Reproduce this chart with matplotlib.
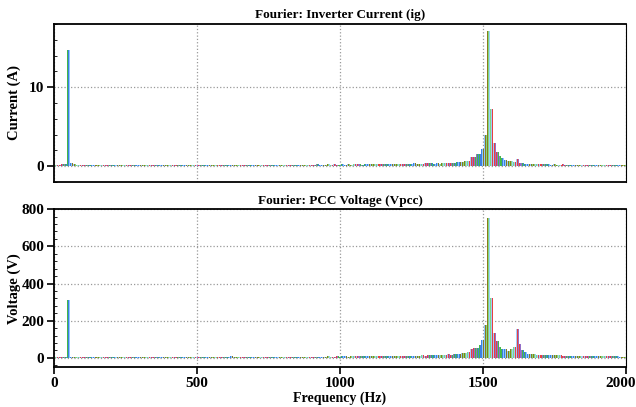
import numpy as np
import matplotlib
matplotlib.use("Agg")
import matplotlib.pyplot as plt
import matplotlib.transforms as mtrans

plt.rcParams["font.family"] = ["Liberation Serif", "DejaVu Serif"]
plt.rcParams["font.weight"] = "bold"

# frequency bins (Hz), 10 Hz resolution
freq = np.arange(0, 2001, 10)

# inverter current spectrum (A), one value per bin
current = [
    0.1, 0.15, 0.2, 0.25, 0.3, 14.7, 0.35, 0.25, 0.2, 0.15,
    0.12, 0.1, 0.12, 0.1, 0.12, 0.1, 0.12, 0.1, 0.1, 0.12,
    0.1, 0.12, 0.1, 0.15, 0.12, 0.1, 0.12, 0.1, 0.12, 0.1,
    0.12, 0.1, 0.1, 0.12, 0.1, 0.12, 0.1, 0.12, 0.1, 0.1,
    0.1, 0.12, 0.1, 0.1, 0.12, 0.1, 0.1, 0.12, 0.1, 0.12,
    0.1, 0.1, 0.12, 0.1, 0.12, 0.1, 0.12, 0.15, 0.12, 0.1,
    0.12, 0.15, 0.12, 0.1, 0.15, 0.12, 0.15, 0.12, 0.15, 0.12,
    0.15, 0.12, 0.15, 0.18, 0.15, 0.12, 0.15, 0.18, 0.15, 0.15,
    0.18, 0.15, 0.18, 0.15, 0.2, 0.18, 0.15, 0.2, 0.18, 0.2,
    0.18, 0.2, 0.25, 0.2, 0.18, 0.2, 0.22, 0.2, 0.25, 0.2,
    0.2, 0.22, 0.2, 0.25, 0.2, 0.22, 0.25, 0.22, 0.2, 0.25,
    0.22, 0.25, 0.22, 0.25, 0.28, 0.25, 0.22, 0.25, 0.3, 0.25,
    0.25, 0.28, 0.3, 0.25, 0.28, 0.3, 0.35, 0.3, 0.28, 0.3,
    0.35, 0.45, 0.35, 0.3, 0.35, 0.3, 0.35, 0.35, 0.4, 0.35,
    0.45, 0.5, 0.55, 0.55, 0.6, 0.7, 1.2, 1.2, 1.5, 1.6,
    2.15, 3.9, 17.1, 7.2, 2.9, 1.8, 1.25, 1.05, 0.8, 0.7,
    0.6, 0.55, 0.9, 0.45, 0.35, 0.3, 0.3, 0.28, 0.25, 0.25,
    0.25, 0.22, 0.25, 0.22, 0.2, 0.22, 0.2, 0.2, 0.22, 0.2,
    0.2, 0.18, 0.2, 0.18, 0.2, 0.18, 0.18, 0.2, 0.18, 0.15,
    0.18, 0.15, 0.18, 0.15, 0.15, 0.18, 0.15, 0.15, 0.18, 0.15,
    0.15,
]

# PCC voltage spectrum (V), one value per bin
voltage = [
    1, 2, 2, 3, 3, 310, 3, 2, 2, 2,
    2, 3, 2, 2, 3, 2, 2, 3, 2, 2,
    2, 2, 3, 2, 2, 3, 2, 2, 3, 2,
    3, 2, 2, 3, 2, 3, 2, 2, 3, 3,
    3, 3, 2, 3, 3, 4, 3, 3, 4, 3,
    3, 4, 3, 3, 4, 3, 4, 3, 4, 4,
    4, 4, 8, 4, 5, 4, 5, 4, 5, 5,
    5, 4, 5, 6, 5, 5, 4, 5, 6, 5,
    5, 6, 5, 6, 7, 6, 5, 6, 7, 6,
    6, 7, 6, 7, 6, 7, 8, 7, 7, 8,
    7, 8, 8, 7, 8, 9, 8, 8, 9, 8,
    9, 8, 9, 10, 9, 10, 9, 10, 11, 10,
    10, 11, 10, 11, 12, 11, 12, 11, 12, 13,
    12, 13, 14, 13, 15, 14, 16, 15, 18, 17,
    20, 21, 23, 24, 26, 29, 50, 54, 55, 70,
    98, 179, 751, 322, 134, 89, 57, 50, 48, 36,
    50, 57, 155, 72, 41, 30, 23, 20, 18, 17,
    16, 15, 15, 14, 14, 13, 13, 13, 12, 12,
    12, 11, 11, 11, 10, 10, 10, 10, 9, 9,
    9, 9, 9, 8, 8, 8, 8, 8, 7, 7,
    7,
]

palette = ["#8a7a1c", "#7fd87f", "#9fcdfb", "#e8403f",
           "#9470c8", "#44b84a", "#3d7fe0", "#8ec8ff"]
n_sub = 3
sub_w = 10.0 / n_sub


def draw_spectrum(ax, values):
    values = np.asarray(values, dtype=float)
    for k in range(n_sub):
        cols = [palette[(i + k) % len(palette)] for i in range(len(freq))]
        ax.bar(freq + (k - 1) * sub_w, values, width=sub_w, color=cols,
               linewidth=0, zorder=2)


fig = plt.figure(figsize=(6.36, 4.07), dpi=100)
ax1 = fig.add_axes([0.085, 0.553, 0.899, 0.388])
ax2 = fig.add_axes([0.085, 0.098, 0.899, 0.388])

draw_spectrum(ax1, current)
draw_spectrum(ax2, voltage)

for ax in (ax1, ax2):
    ax.set_xlim(0, 2000)
    ax.set_xticks([0, 500, 1000, 1500, 2000])
    ax.grid(True, linestyle=":", color="#999999", linewidth=0.9)
    ax.set_axisbelow(True)
    for s in ("left", "top", "bottom"):
        ax.spines[s].set_linewidth(1.3)
    ax.spines["right"].set_linewidth(0.8)
    ax.tick_params(axis="y", direction="out", length=5, width=1.2, labelsize=11, pad=2)
    ax.tick_params(axis="x", direction="out", length=5, width=1.2, labelsize=11, pad=2)
    ax.yaxis.set_minor_locator(matplotlib.ticker.AutoMinorLocator(5))
    ax.tick_params(axis="y", which="minor", direction="in", length=2, width=0.6)
    for lab in ax.get_xticklabels() + ax.get_yticklabels():
        lab.set_fontweight("bold")

ax1.set_ylim(-2, 18)
ax1.set_yticks([0, 10])
ax1.tick_params(axis="x", which="both", labelbottom=False, length=0)
ax1.set_title("Fourier: Inverter Current (ig)", fontsize=9.5, fontweight="bold", pad=4)
ax1.set_ylabel("Current (A)", fontsize=10.5, fontweight="bold", labelpad=6)

ax2.set_ylim(-50, 800)
ax2.set_yticks([0, 200, 400, 600, 800])
ax2.set_title("Fourier: PCC Voltage (Vpcc)", fontsize=9.5, fontweight="bold", pad=4)
ax2.set_ylabel("Voltage (V)", fontsize=10.5, fontweight="bold", labelpad=0)
ax2.set_xlabel("Frequency (Hz)", fontsize=10, fontweight="bold", labelpad=1)

# nudge the last tick label so it stays inside the figure
last = ax2.get_xticklabels()[-1]
last.set_transform(last.get_transform() +
                   mtrans.ScaledTranslation(-4 / 72, 0, fig.dpi_scale_trans))

fig.savefig("out.png", dpi=100)
